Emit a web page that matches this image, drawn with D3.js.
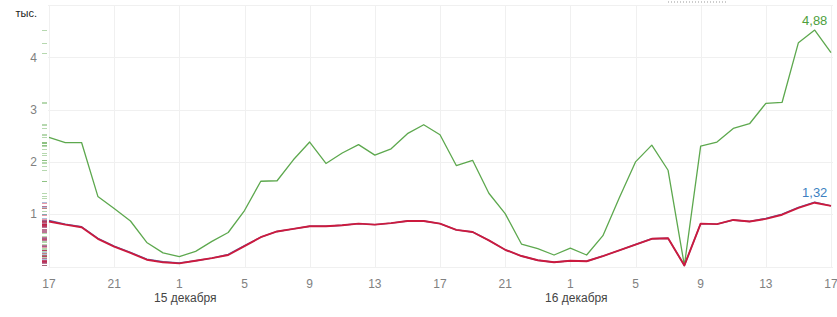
<!DOCTYPE html>
<html>
<head>
<meta charset="utf-8">
<script src="https://cdn.jsdelivr.net/npm/d3@7"></script>
<style>
  body { margin: 0; background: #fff; }
  text { font-family: "Liberation Sans", Arial, sans-serif; }
</style>
</head>
<body>
<div id="chart"></div>
<script>
// hourly values, 14 Dec 17:00 .. 16 Dec 17:00 (thousands)
const greenValues = [2.47, 2.37, 2.37, 1.34, 1.11, 0.87, 0.46, 0.26, 0.19, 0.29, 0.48, 0.65, 1.07,
  1.63, 1.64, 2.04, 2.38, 1.97, 2.17, 2.33, 2.13, 2.25, 2.54, 2.71, 2.52,
  1.93, 2.03, 1.40, 1.01, 0.43, 0.34, 0.22, 0.35, 0.22, 0.59, 1.31, 2.00,
  2.32, 1.84, 0.02, 2.30, 2.38, 2.64, 2.73, 3.12, 3.14, 4.28, 4.52, 4.09];
const blueValues = [0.88, 0.81, 0.76, 0.54, 0.39, 0.27, 0.14, 0.09, 0.07, 0.11, 0.16, 0.23, 0.40,
  0.56, 0.67, 0.72, 0.77, 0.77, 0.79, 0.82, 0.80, 0.83, 0.87, 0.87, 0.82,
  0.70, 0.66, 0.50, 0.32, 0.20, 0.12, 0.08, 0.11, 0.10, 0.20, 0.31, 0.42,
  0.53, 0.54, 0.02, 0.82, 0.81, 0.89, 0.86, 0.92, 1.00, 1.13, 1.23, 1.16];
const redValues = [0.86, 0.80, 0.75, 0.53, 0.38, 0.26, 0.13, 0.08, 0.06, 0.11, 0.16, 0.22, 0.39,
  0.56, 0.67, 0.72, 0.77, 0.77, 0.79, 0.82, 0.80, 0.83, 0.87, 0.87, 0.82,
  0.70, 0.66, 0.50, 0.32, 0.20, 0.12, 0.08, 0.11, 0.10, 0.20, 0.31, 0.42,
  0.53, 0.54, 0.02, 0.82, 0.81, 0.89, 0.86, 0.91, 0.99, 1.12, 1.22, 1.16];
const yTicks = [1, 2, 3, 4];
const dayLabels = ["15 декабря", "16 декабря"];
const peakLabels = ["4,88", "1,32"];

const width = 837, height = 317;
const start = new Date(2014, 11, 14, 17);
const hours = greenValues.map((d, i) => d3.timeHour.offset(start, i));

const svg = d3.select("#chart").append("svg")
  .attr("width", width).attr("height", height);

const x = d3.scaleTime()
  .domain([hours[0], hours[hours.length - 1]])
  .range([49, 831]);
const y = d3.scaleLinear().domain([0, 5]).range([266.5, 5]);

const xTicks = hours.filter(d => d.getHours() % 4 === 1);

// grid
svg.append("g").selectAll("line")
  .data([0].concat(yTicks).concat([5]))
  .join("line")
  .attr("x1", 48).attr("x2", 833)
  .attr("y1", d => Math.round(y(d)) + 0.5).attr("y2", d => Math.round(y(d)) + 0.5)
  .attr("stroke", "#f0f0f0");

svg.append("g").selectAll("line")
  .data(xTicks)
  .join("line")
  .attr("x1", d => Math.round(x(d)) + 0.5).attr("x2", d => Math.round(x(d)) + 0.5)
  .attr("y1", 5).attr("y2", 267)
  .attr("stroke", "#f0f0f0");

// y labels
svg.append("g").selectAll("text")
  .data(yTicks)
  .join("text")
  .attr("x", 37).attr("y", d => y(d))
  .attr("dy", "0.35em")
  .attr("text-anchor", "end")
  .attr("font-size", 12)
  .attr("fill", "#808080")
  .text(d => d);

svg.append("text")
  .attr("x", 37).attr("y", 17)
  .attr("text-anchor", "end")
  .attr("font-size", 11)
  .attr("fill", "#222")
  .text("тыс.");

// x labels
svg.append("g").selectAll("text")
  .data(xTicks)
  .join("text")
  .attr("x", d => x(d)).attr("y", 288)
  .attr("text-anchor", "middle")
  .attr("font-size", 12)
  .attr("fill", "#808080")
  .text(d => d.getHours());

svg.append("g").selectAll("text")
  .data(xTicks.filter(d => d.getHours() === 1))
  .join("text")
  .attr("x", d => x(d) + 6).attr("y", 302)
  .attr("text-anchor", "middle")
  .attr("font-size", 12)
  .attr("fill", "#444")
  .text((d, i) => dayLabels[i]);

// dotted mark at the top
svg.append("line")
  .attr("x1", 668).attr("x2", 727).attr("y1", 2).attr("y2", 2)
  .attr("stroke", "#999").attr("stroke-dasharray", "1,2");

const series = [
  { values: greenValues, color: "#5da84e", width: 1.3 },
  { values: blueValues, color: "#4a6fb0", width: 1.4 },
  { values: redValues, color: "#cc1a3e", width: 1.9 }
];

// rug of values on the left
series.forEach(s => {
  svg.append("g").selectAll("line")
    .data(s.values)
    .join("line")
    .attr("x1", 42).attr("x2", 47)
    .attr("y1", d => Math.round(y(d)) + 0.5).attr("y2", d => Math.round(y(d)) + 0.5)
    .attr("stroke", s.color)
    .attr("stroke-opacity", 0.45);
});

const line = d3.line()
  .x((d, i) => x(hours[i]))
  .y(d => y(d));

series.forEach(s => {
  svg.append("path")
    .datum(s.values)
    .attr("d", line)
    .attr("fill", "none")
    .attr("stroke", s.color)
    .attr("stroke-width", s.width)
    .attr("stroke-linejoin", "round");
});

// peak labels
const gMax = d3.maxIndex(greenValues);
svg.append("text")
  .attr("x", x(hours[gMax])).attr("y", 25)
  .attr("text-anchor", "middle")
  .attr("font-size", 13)
  .attr("fill", "#4e9f3d")
  .text(peakLabels[0]);

const rMax = d3.maxIndex(redValues);
svg.append("text")
  .attr("x", x(hours[rMax])).attr("y", 197)
  .attr("text-anchor", "middle")
  .attr("font-size", 13)
  .attr("fill", "#3d7fc1")
  .text(peakLabels[1]);
</script>
</body>
</html>
